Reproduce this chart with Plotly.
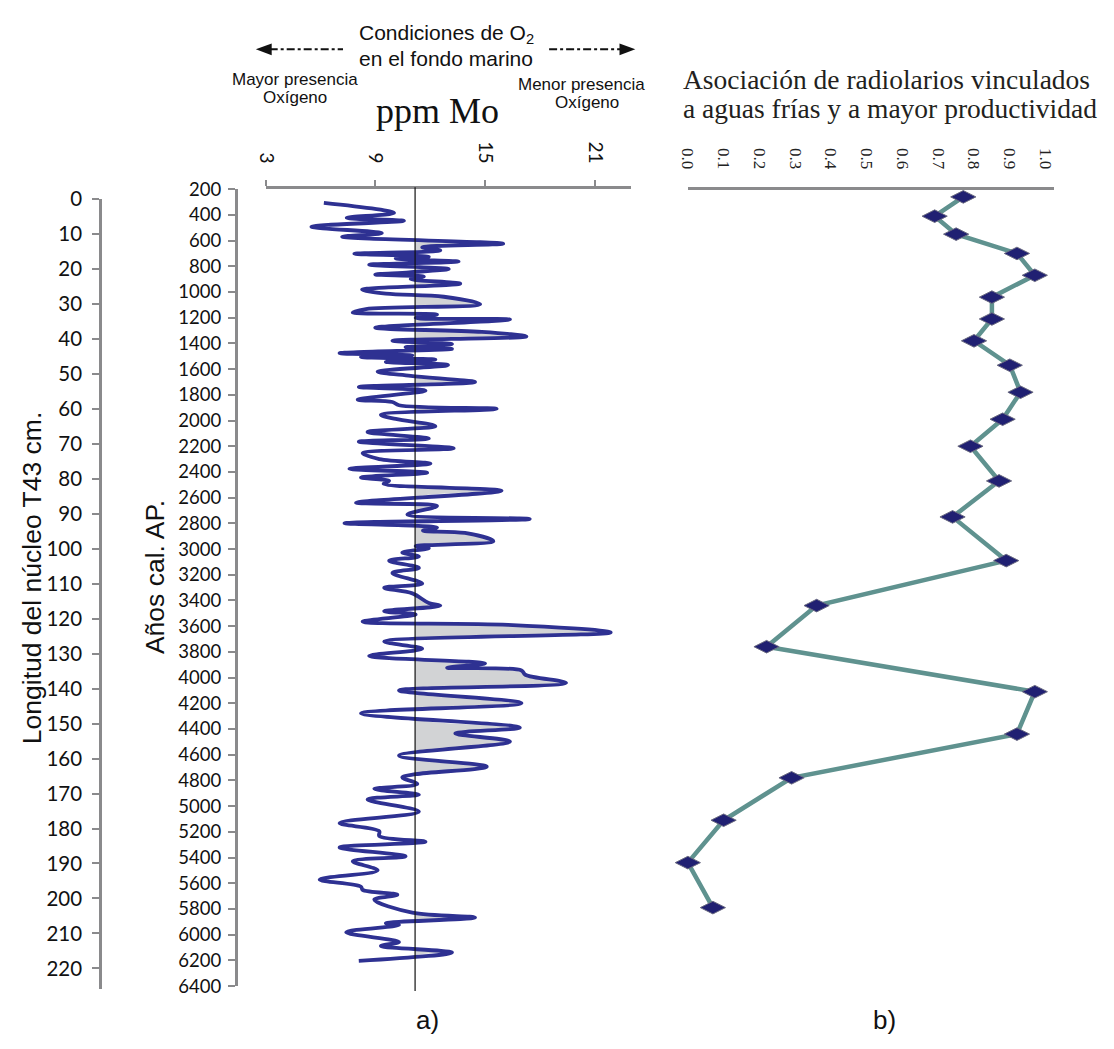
import plotly.graph_objects as go

# page geometry: the browser adds an 8px body margin, so the figure is sized to fit inside
OX, OY = 8, 8
WF, HF = 1098, 1033

# ---------------- data ----------------
# Panel a: Mo concentration (ppm) vs calibrated age (years BP)
mo_age = [307, 385, 423, 446, 492, 542, 570, 624, 652, 677, 702, 725, 740, 763, 788, 821, 847, 864,
          880, 900, 935, 981, 1012, 1037, 1095, 1133, 1159, 1176, 1202, 1214, 1278, 1311, 1346, 1379,
          1405, 1430, 1443, 1476, 1493, 1506, 1526, 1544, 1569, 1620, 1653, 1701, 1739, 1767, 1838,
          1856, 1881, 1909, 1955, 1988, 2044, 2089, 2140, 2165, 2216, 2254, 2300, 2335, 2376, 2406,
          2444, 2469, 2492, 2546, 2639, 2665, 2731, 2766, 2799, 2832, 2857, 2875, 2939, 2977, 2994,
          3027, 3058, 3091, 3147, 3187, 3268, 3301, 3345, 3420, 3441, 3484, 3509, 3565, 3590, 3649,
          3720, 3776, 3831, 3890, 3923, 3945, 3978, 4042, 4100, 4199, 4278, 4389, 4435, 4498, 4607,
          4693, 4752, 4777, 4828, 4866, 4911, 4949, 5043, 5132, 5195, 5233, 5277, 5322, 5391, 5429,
          5500, 5571, 5627, 5652, 5690, 5728, 5829, 5867, 5911, 5926, 5982, 6058, 6088, 6139, 6205]
mo_ppm = [6.18, 10.02, 7.43, 10.56, 5.50, 9.35, 7.18, 15.99, 11.56, 12.55, 7.85, 11.92, 10.11, 13.55,
          8.66, 13.01, 10.84, 8.99, 11.65, 10.93, 13.64, 8.27, 9.57, 12.74, 14.73, 8.48, 7.76, 12.37,
          11.20, 16.36, 8.99, 14.82, 17.26, 9.93, 13.19, 10.65, 13.19, 7.04, 11.02, 8.21, 12.28, 9.57,
          12.97, 9.12, 10.93, 14.45, 8.09, 11.74, 8.03, 9.93, 10.29, 15.63, 9.30, 10.11, 12.28, 8.57,
          11.92, 8.09, 13.28, 8.30, 9.21, 12.01, 7.58, 11.83, 8.21, 9.75, 9.45, 15.90, 7.94, 12.37,
          10.75, 17.44, 7.31, 12.37, 11.60, 13.90, 15.45, 11.20, 11.92, 10.47, 11.38, 9.75, 11.38,
          9.93, 11.56, 9.48, 11.02, 11.92, 12.55, 9.48, 11.20, 8.30, 16.26, 21.87, 9.48, 11.56, 8.66,
          15.00, 12.92, 16.99, 17.20, 19.43, 10.29, 16.99, 8.21, 16.90, 13.37, 16.36, 10.29, 15.09,
          11.20, 10.47, 11.29, 8.94, 11.38, 8.57, 11.38, 7.04, 9.21, 9.21, 11.74, 7.04, 10.65, 7.76,
          9.12, 5.95, 8.21, 8.30, 10.20, 8.94, 11.02, 14.45, 9.57, 10.29, 7.40, 10.29, 9.30, 13.19,
          8.09]
MO_REF = 11.17  # reference (mean) Mo value

# Panel b: cold-water / high-productivity radiolarian association vs age
rad_age = [260, 410, 550, 700, 870, 1040, 1210, 1380, 1570, 1780, 1990, 2200, 2470, 2750, 3090,
           3440, 3760, 4110, 4440, 4780, 5110, 5440, 5790]
rad_val = [0.77, 0.69, 0.75, 0.92, 0.97, 0.85, 0.85, 0.80, 0.90, 0.93, 0.88, 0.79, 0.87, 0.74,
           0.89, 0.36, 0.22, 0.97, 0.92, 0.29, 0.10, 0.00, 0.07]

# Tick labels
depth_ticks = list(range(0, 230, 10))
age_ticks = list(range(200, 6600, 200))
mo_ticks = [3, 9, 15, 21]
rad_ticks = [0.0, 0.1, 0.2, 0.3, 0.4, 0.5, 0.6, 0.7, 0.8, 0.9, 1.0]


def fx(px):
    return (px - OX) / WF


def fy(py):
    return 1 - (py - OY) / HF


AXIS_GRAY = "#8a8a8c"
TICK_FONT = dict(family="Lato, Liberation Sans, sans-serif", size=19, color="#111111")

# --- fill polygon (area where Mo exceeds the reference) ---
fill_x, fill_y = [MO_REF], [mo_age[0]]
for i in range(len(mo_ppm)):
    if i > 0:
        a, b = mo_ppm[i - 1], mo_ppm[i]
        if (a - MO_REF) * (b - MO_REF) < 0:
            t = (MO_REF - a) / (b - a)
            fill_x.append(MO_REF)
            fill_y.append(mo_age[i - 1] + t * (mo_age[i] - mo_age[i - 1]))
    fill_x.append(max(mo_ppm[i], MO_REF))
    fill_y.append(mo_age[i])
fill_x.append(MO_REF)
fill_y.append(mo_age[-1])

fig = go.Figure()

fig.add_trace(go.Scatter(x=fill_x, y=fill_y, xaxis="x", yaxis="y", mode="lines",
                         line=dict(width=0, shape="spline"), fill="toself",
                         fillcolor="#d2d3d5", hoverinfo="skip", showlegend=False))
fig.add_trace(go.Scatter(x=mo_ppm, y=mo_age, xaxis="x", yaxis="y", mode="lines",
                         line=dict(color="#2e3192", width=3.8, shape="spline"),
                         showlegend=False))
# dummy trace so the depth axis is drawn
fig.add_trace(go.Scatter(x=[None], y=[None], xaxis="x", yaxis="y2", showlegend=False,
                         hoverinfo="skip"))
fig.add_trace(go.Scatter(x=rad_val, y=rad_age, xaxis="x2", yaxis="y", mode="lines+markers",
                         line=dict(color="#5f928f", width=4.5),
                         marker=dict(symbol="diamond-wide", size=18, color="#202072",
                                     line=dict(color="#6a6a80", width=1)),
                         cliponaxis=False, showlegend=False))

common_axis = dict(showline=True, linecolor=AXIS_GRAY, linewidth=3, showgrid=False,
                   zeroline=False, tickcolor=AXIS_GRAY)

fig.update_layout(
    width=WF, height=HF, autosize=False,
    margin=dict(l=0, r=0, t=0, b=0),
    paper_bgcolor="white", plot_bgcolor="rgba(0,0,0,0)",
    showlegend=False,
    font=dict(family="Liberation Sans, Arial, sans-serif", color="#111111"),
    xaxis=dict(domain=[fx(258), fx(627)], range=[3, 23], side="top", anchor="free",
               position=fy(178), ticks="outside", ticklen=6, tickwidth=2,
               tickvals=mo_ticks, tickangle=90, tickfont=TICK_FONT, ticklabelstandoff=10,
               **common_axis),
    yaxis=dict(domain=[fy(995), fy(180)], range=[6400, 200], anchor="free",
               position=fx(228), side="left", ticks="outside", ticklen=7, tickwidth=2,
               tickvals=age_ticks, tickfont=dict(TICK_FONT, size=18.5),
               ticklabelstandoff=3, **common_axis),
    yaxis2=dict(domain=[fy(998), fy(190)], range=[(998 - 190) / 3.5773, 0], anchor="free",
                position=fx(91), side="left", ticks="outside", ticklen=7, tickwidth=2,
                tickvals=depth_ticks, tickfont=dict(TICK_FONT, size=20.5),
                ticklabelstandoff=6, **common_axis),
    xaxis2=dict(domain=[fx(684), fx(1054)], range=[0, 370 / 361], side="top", anchor="free",
                position=fy(179), ticks="", tickvals=rad_ticks,
                ticktext=[f"{v:.1f}" for v in rad_ticks], tickangle=90,
                tickfont=dict(family="Liberation Serif, Times New Roman, serif", size=17,
                              color="#222222"),
                ticklabelstandoff=12, **common_axis),
)

# reference line
fig.add_shape(type="line", xref="x", yref="paper", x0=MO_REF, x1=MO_REF,
              y0=fy(178), y1=fy(1000), line=dict(color="#111111", width=1.2))

# dash-dot arrows at the top
fig.add_shape(type="line", xref="paper", yref="paper", x0=fx(262), x1=fx(336),
              y0=fy(37), y1=fy(37), line=dict(color="#111111", width=2, dash="8px,3px,3px,3px"))
fig.add_shape(type="line", xref="paper", yref="paper", x0=fx(544), x1=fx(617),
              y0=fy(37), y1=fy(37), line=dict(color="#111111", width=2, dash="8px,3px,3px,3px"))
fig.add_shape(type="path", xref="paper", yref="paper",
              path=f"M {fx(248)},{fy(37)} L {fx(264)},{fy(31)} L {fx(264)},{fy(43)} Z",
              fillcolor="#111111", line=dict(width=0))
fig.add_shape(type="path", xref="paper", yref="paper",
              path=f"M {fx(631)},{fy(37)} L {fx(615)},{fy(31)} L {fx(615)},{fy(43)} Z",
              fillcolor="#111111", line=dict(width=0))

SANS = "Liberation Sans, Arial, sans-serif"
SERIF = "Liberation Serif, Times New Roman, serif"


def note(text, px, py, size, family=SANS, xanchor="center", angle=0, color="#111111"):
    fig.add_annotation(text=text, x=fx(px), y=fy(py), xref="paper", yref="paper",
                       showarrow=False, xanchor=xanchor, yanchor="middle", textangle=angle,
                       font=dict(family=family, size=size, color=color))


note("Condiciones de O<sub>2</sub>", 440, 21, 21)
note("en el fondo marino", 440, 46, 21)
note("Mayor presencia", 288, 68, 17)
note("Oxígeno", 288, 86, 17)
note("Menor presencia", 577, 73, 17)
note("Oxígeno", 582, 91, 17)
note("ppm Mo", 431, 100, 36, family=SERIF)
note("Asociación de radiolarios vinculados", 677, 68, 27.5, family=SERIF, xanchor="left",
     color="#231f20")
note("a aguas frías y a mayor productividad", 677, 98, 27.5, family=SERIF, xanchor="left",
     color="#231f20")
note("Longitud del núcleo T43 cm.", 22, 578, 26.5, angle=-90)
note("Años cal. AP.", 147, 577, 26.5, angle=-90)
note("a)", 421, 1030, 26)
note("b)", 882, 1030, 26)

fig.write_html("out.html", config={"responsive": False, "displayModeBar": False})
